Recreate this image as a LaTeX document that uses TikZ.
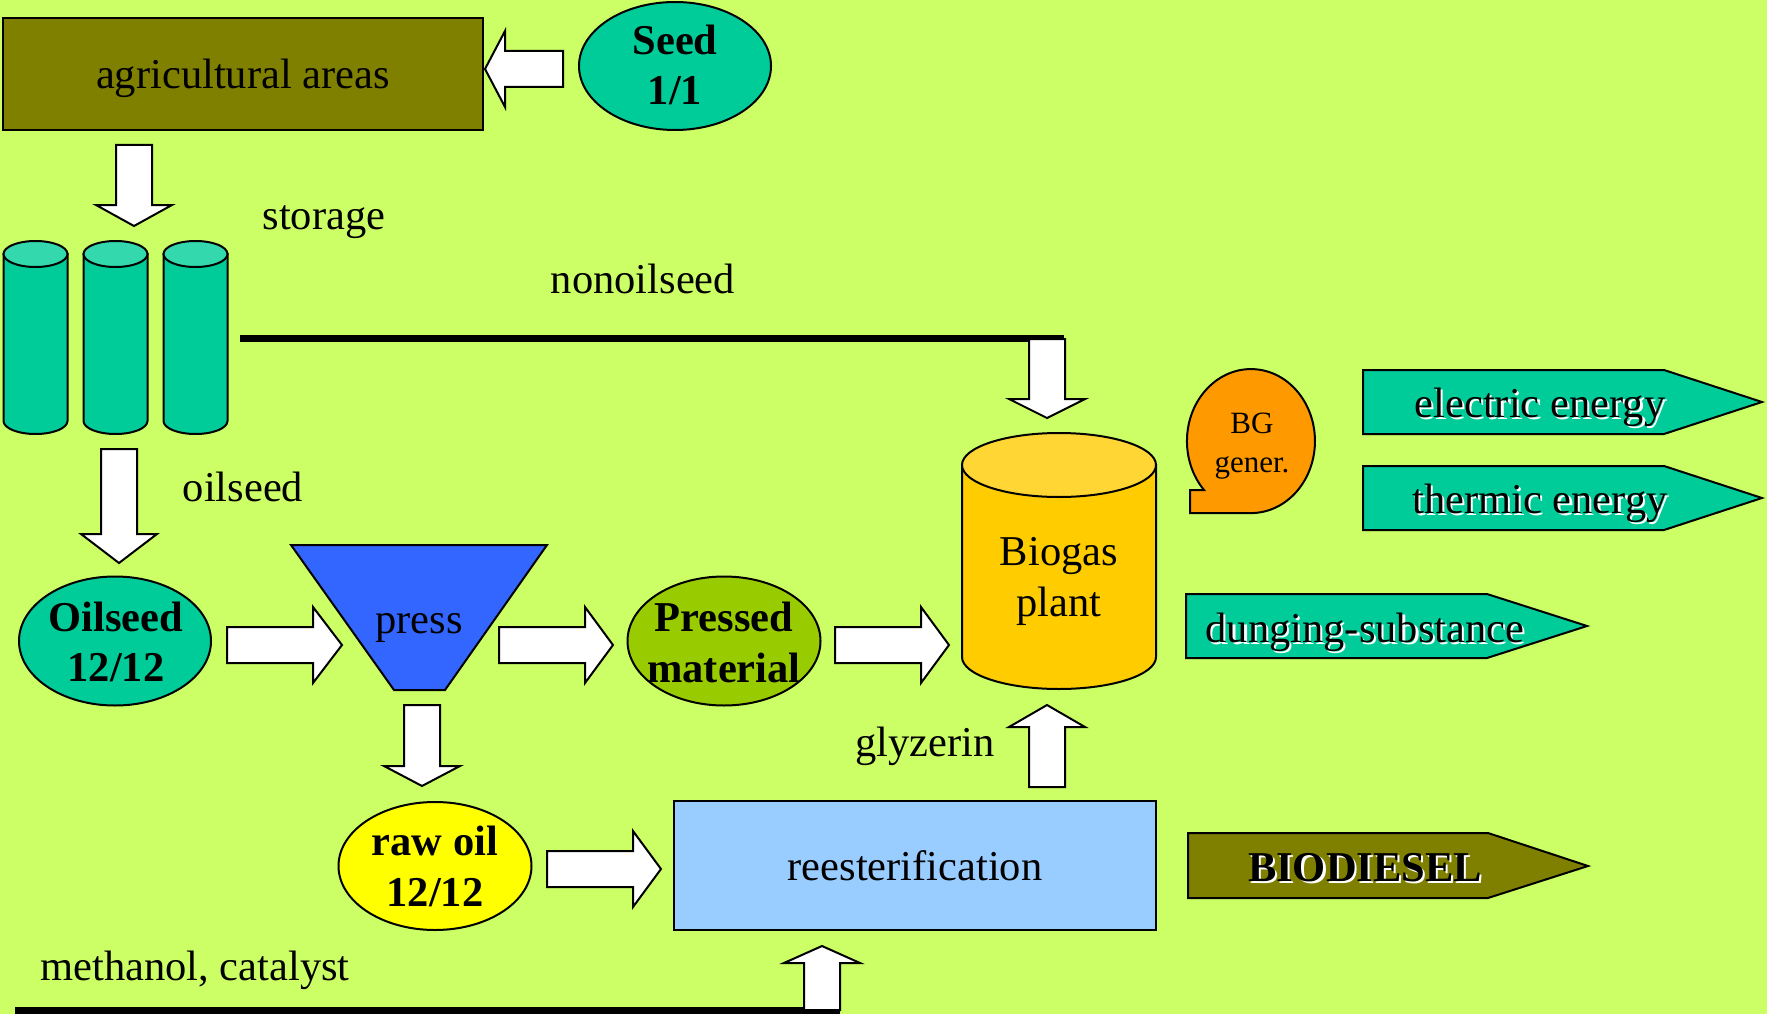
\documentclass[tikz,border=0pt]{standalone}
\usepackage{fontspec}
\setmainfont{Liberation Serif}
\usetikzlibrary{shapes.geometric,calc}
\definecolor{bgc}{HTML}{CCFF66}
\definecolor{olivec}{HTML}{808000}
\definecolor{tealc}{HTML}{00CC99}
\definecolor{tealtop}{HTML}{33D9AC}
\definecolor{pressc}{HTML}{3366FF}
\definecolor{pressedc}{HTML}{99CC00}
\definecolor{rawc}{HTML}{FFFF00}
\definecolor{goldc}{HTML}{FFCC00}
\definecolor{goldtop}{HTML}{FFD633}
\definecolor{orangec}{HTML}{FF9900}
\definecolor{reestc}{HTML}{99CCFF}
\tikzset{
 txt/.style={font=\fontsize{42.5}{50}\selectfont, inner sep=0pt, anchor=base},
 btxt/.style={font=\fontsize{42.5}{50}\selectfont\bfseries, inner sep=0pt, anchor=base},
 stxt/.style={font=\fontsize{31}{36}\selectfont, inner sep=0pt, anchor=base},
 outl/.style={draw=black, line width=2pt},
 oval/.style={ellipse, outl, inner sep=0pt, outer sep=0pt},
 barrowstyle/.style={draw=black, line width=2pt, fill=white, line join=miter},
 feed/.style={line width=7pt},
}
\newcommand\blockarrow[3]{%
 \coordinate (bah) at ($(#3)!#1pt!(#2)$);
 \draw[barrowstyle] ($(#2)!18pt!90:(#3)$) -- ($(bah)!18pt!90:(#3)$) -- ($(bah)!38pt!90:(#3)$) -- (#3) -- ($(bah)!38pt!-90:(#3)$) -- ($(bah)!18pt!-90:(#3)$) -- ($(#2)!18pt!-90:(#3)$) -- cycle;}
\newcommand\cylinder[7]{%
 \draw[outl, fill=#6] ({#1-#4},{#2+#5}) -- ({#1-#4},{#3-#5}) arc[start angle=180, end angle=0, x radius=#4, y radius=#5] -- ({#1+#4},{#2+#5}) -- cycle;
 \draw[outl, fill=#7] (#1,{#2+#5}) ellipse[x radius=#4, y radius=#5];}
\newcommand\shtext[4]{%
 \node[#1, text=white] at ($(#3)+(2.2,2.2)$) {#4};
 \node[#1] (#2) at (#3) {#4};}
\begin{document}
\begin{tikzpicture}[x=1pt,y=-1pt]
\useasboundingbox (0,0) rectangle (1767,1014);
\fill[bgc] (0,0) rectangle (1767,1014);

% agricultural areas and seed
\node[outl, fill=olivec, minimum width=480pt, minimum height=112pt, inner sep=0pt] (agri) at (243,74) {};
\node[txt] (agritxt) at (243,89) {agricultural areas};
\node[oval, fill=tealc, minimum width=192pt, minimum height=128pt] (seed) at (675,66) {};
\node[btxt] (seedA) at (675,55) {Seed};
\node[btxt] (seedB) at (675,105) {1/1};
\coordinate (a1t) at (563,69);
\coordinate (a1h) at (485,69);
\blockarrow{20}{a1t}{a1h}

% storage
\coordinate (a2t) at (134,145);
\coordinate (a2h) at (134,226);
\blockarrow{21}{a2t}{a2h}
\cylinder{35.5}{241}{434}{32}{13}{tealc}{tealtop}
\cylinder{115.5}{241}{434}{32}{13}{tealc}{tealtop}
\cylinder{195.5}{241}{434}{32}{13}{tealc}{tealtop}
\coordinate (storage) at (115.5,337);
\node[txt] (storagetxt) at (324,229) {storage};

% nonoilseed line
\node[txt] (nonoil) at (643,293) {nonoilseed};
\coordinate (nonA) at (240,338);
\coordinate (nonB) at (1064,338);
\draw[feed] (nonA) -- (nonB);
\coordinate (a3t) at (1047,339);
\coordinate (a3h) at (1047,418);
\blockarrow{19}{a3t}{a3h}

% oilseed
\coordinate (a4t) at (119,449);
\coordinate (a4h) at (119,563);
\blockarrow{29}{a4t}{a4h}
\node[txt] (oiltxt) at (243,501) {oilseed};
\node[oval, fill=tealc, minimum width=192pt, minimum height=129pt] (oilseed) at (115,641) {};
\node[btxt] (oilA) at (116,631) {Oilseed};
\node[btxt] (oilB) at (116,681) {12/12};

% press
\draw[outl, fill=pressc] (291,545) -- (547,545) -- (445,690) -- (394,690) -- cycle;
\node[txt] (press) at (419,633) {press};
\coordinate (a5t) at (227,645);
\coordinate (a5h) at (342,645);
\blockarrow{29}{a5t}{a5h}
\coordinate (a6t) at (499,645);
\coordinate (a6h) at (613,645);
\blockarrow{28}{a6t}{a6h}

% pressed material
\node[oval, fill=pressedc, minimum width=193pt, minimum height=129pt] (pressed) at (724,641) {};
\node[btxt] (prA) at (724,631) {Pressed};
\node[btxt] (prB) at (724,682) {material};
\coordinate (a7t) at (835,645);
\coordinate (a7h) at (949,645);
\blockarrow{28}{a7t}{a7h}

% biogas plant
\cylinder{1059}{433}{689}{97}{32}{goldc}{goldtop}
\node[txt] (bioA) at (1059,565) {Biogas};
\node[txt] (bioB) at (1059,616) {plant};

% BG generator
\draw[outl, fill=orangec] (1190,513) -- (1190,490) -- (1204,490) arc[start angle=137.2, end angle=450, x radius=64, y radius=72] -- cycle;
\node[stxt] (bgA) at (1252,433) {BG};
\node[stxt] (bgB) at (1252,472) {gener.};

% outputs
\draw[outl, fill=tealc] (1363,370) -- (1664,370) -- (1762,402) -- (1664,434) -- (1363,434) -- cycle;
\shtext{txt}{elec}{1540,417}{electric energy}
\draw[outl, fill=tealc] (1363,466) -- (1664,466) -- (1762,498) -- (1664,530) -- (1363,530) -- cycle;
\shtext{txt}{therm}{1540,513}{thermic energy}
\draw[outl, fill=tealc] (1186,594) -- (1487,594) -- (1587,626) -- (1487,658) -- (1186,658) -- cycle;
\shtext{txt}{dung}{1365,642}{dunging-substance}
\draw[outl, fill=olivec] (1188,833) -- (1488,833) -- (1588,866) -- (1488,898) -- (1188,898) -- cycle;
\shtext{btxt}{biod}{1365,881}{BIODIESEL}

% raw oil
\coordinate (a8t) at (422,705);
\coordinate (a8h) at (422,786);
\blockarrow{20}{a8t}{a8h}
\node[oval, fill=rawc, minimum width=193pt, minimum height=128pt] (rawoil) at (435,866) {};
\node[btxt] (rawA) at (435,855) {raw oil};
\node[btxt] (rawB) at (435,906) {12/12};
\coordinate (a9t) at (547,869);
\coordinate (a9h) at (661,869);
\blockarrow{28}{a9t}{a9h}

% reesterification
\node[outl, fill=reestc, minimum width=482pt, minimum height=129pt, inner sep=0pt] (reest) at (915,865.5) {};
\node[txt] (reesttxt) at (915,880) {reesterification};
\coordinate (a10t) at (1047,787);
\coordinate (a10h) at (1047,705);
\blockarrow{22}{a10t}{a10h}
\node[txt] (glyz) at (925,756) {glyzerin};

% methanol
\node[txt] (meth) at (195,980) {methanol, catalyst};
\coordinate (methA) at (15,1010);
\coordinate (methB) at (840,1010);
\draw[feed] (methA) -- (methB);
\coordinate (a11t) at (822,1010);
\coordinate (a11h) at (822,946);
\blockarrow{17}{a11t}{a11h}
\end{tikzpicture}
\end{document}
